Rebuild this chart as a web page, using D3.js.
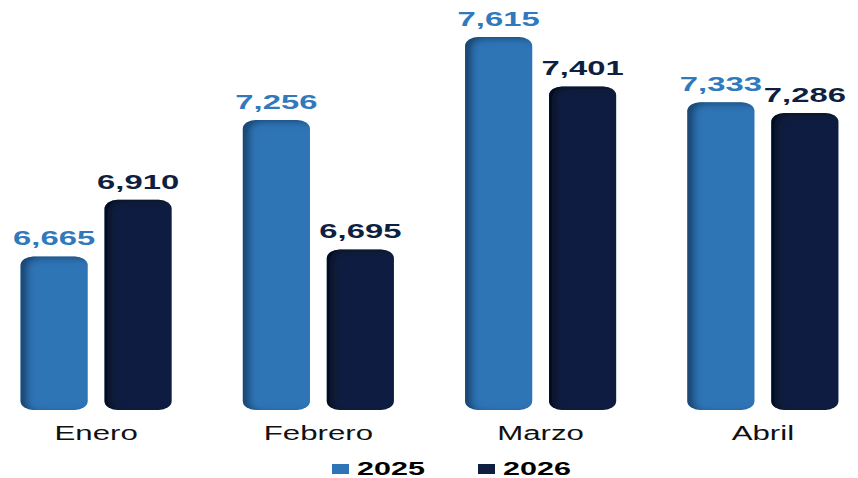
<!DOCTYPE html>
<html>
<head>
<meta charset="utf-8">
<script src="https://cdn.jsdelivr.net/npm/d3@7"></script>
<style>
  html, body { margin: 0; padding: 0; background: #fff; }
  svg { display: block; font-family: "Liberation Sans", Arial, sans-serif; }
</style>
</head>
<body>
<div id="chart"></div>
<script>
const months = ["Enero", "Febrero", "Marzo", "Abril"]
const seriesNames = ["2025", "2026"]
const values2025 = [6665, 7256, 7615, 7333]
const values2026 = [6910, 6695, 7401, 7286]

const width = 858
const height = 478
const baseline = 410
// the whole picture is stretched sideways, text included
const stretch = 1.6

const colors = { "2025": "#2e74b6", "2026": "#0e1f40" }
const labelColors = { "2025": "#3079bd", "2026": "#0f1f3f" }

const data = months.map((m, i) => ({
  month: m,
  values: [
    { key: "2025", value: values2025[i] },
    { key: "2026", value: values2026[i] }
  ]
}))

const svg = d3.select("#chart").append("svg")
  .attr("width", width)
  .attr("height", height)

// Inner shadow for the bars (dark rim on the left and top)
const defs = svg.append("defs")
const filter = defs.append("filter")
  .attr("id", "inner-shadow")
  .attr("x", "-10%").attr("y", "-10%")
  .attr("width", "120%").attr("height", "120%")
filter.append("feOffset").attr("dx", 7).attr("dy", 2)
filter.append("feGaussianBlur").attr("stdDeviation", 3.5).attr("result", "offset-blur")
filter.append("feComposite")
  .attr("operator", "out").attr("in", "SourceGraphic").attr("in2", "offset-blur")
  .attr("result", "inverse")
filter.append("feFlood").attr("flood-color", "#000").attr("flood-opacity", 0.65).attr("result", "color")
filter.append("feComposite")
  .attr("operator", "in").attr("in", "color").attr("in2", "inverse").attr("result", "shadow")
filter.append("feComposite")
  .attr("operator", "over").attr("in", "shadow").attr("in2", "SourceGraphic")

// Scales
const x0 = d3.scaleBand()
  .domain(months)
  .range([-15, 874])
  .paddingInner(0.32)
  .paddingOuter(0.16)

const x1 = d3.scaleBand()
  .domain(seriesNames)
  .range([0, x0.bandwidth()])
  .paddingInner(0.2)
  .paddingOuter(0)

const y = d3.scaleLinear()
  .domain([6000, 7615])
  .range([baseline, 37])

// Bars
const groups = svg.append("g")
  .selectAll("g")
  .data(data)
  .join("g")
    .attr("transform", d => `translate(${x0(d.month)},0)`)

groups.selectAll("rect")
  .data(d => d.values)
  .join("rect")
    .attr("x", d => x1(d.key))
    .attr("y", d => y(d.value))
    .attr("width", x1.bandwidth())
    .attr("height", d => baseline - y(d.value))
    .attr("rx", 13)
    .attr("ry", 9)
    .attr("fill", d => colors[d.key])
    .attr("filter", "url(#inner-shadow)")

// Value labels
groups.selectAll("text")
  .data(d => d.values)
  .join("text")
    .attr("transform", d => `translate(${x1(d.key) + x1.bandwidth() / 2},${y(d.value) - 11}) scale(1.64,1)`)
    .attr("text-anchor", "middle")
    .attr("font-size", 20)
    .attr("font-weight", "bold")
    .attr("fill", d => labelColors[d.key])
    .text(d => d3.format(",")(d.value))

// Category axis labels
svg.append("g")
  .selectAll("text")
  .data(months)
  .join("text")
    .attr("transform", d => `translate(${x0(d) + x0.bandwidth() / 2},440) scale(${stretch},1)`)
    .attr("text-anchor", "middle")
    .attr("font-size", 19.5)
    .attr("fill", "#111")
    .text(d => d)

// Legend
const legendX = d3.scaleOrdinal().domain(seriesNames).range([332, 478])
const legend = svg.append("g")
  .selectAll("g")
  .data(seriesNames)
  .join("g")
    .attr("transform", d => `translate(${legendX(d)},0)`)

legend.append("rect")
  .attr("x", 0)
  .attr("y", 464)
  .attr("width", 17)
  .attr("height", 10)
  .attr("fill", d => colors[d])

legend.append("text")
  .attr("transform", `translate(25,475) scale(1.65,1)`)
  .attr("font-size", 18.5)
  .attr("font-weight", "bold")
  .attr("fill", "#000")
  .text(d => d)
</script>
</body>
</html>
